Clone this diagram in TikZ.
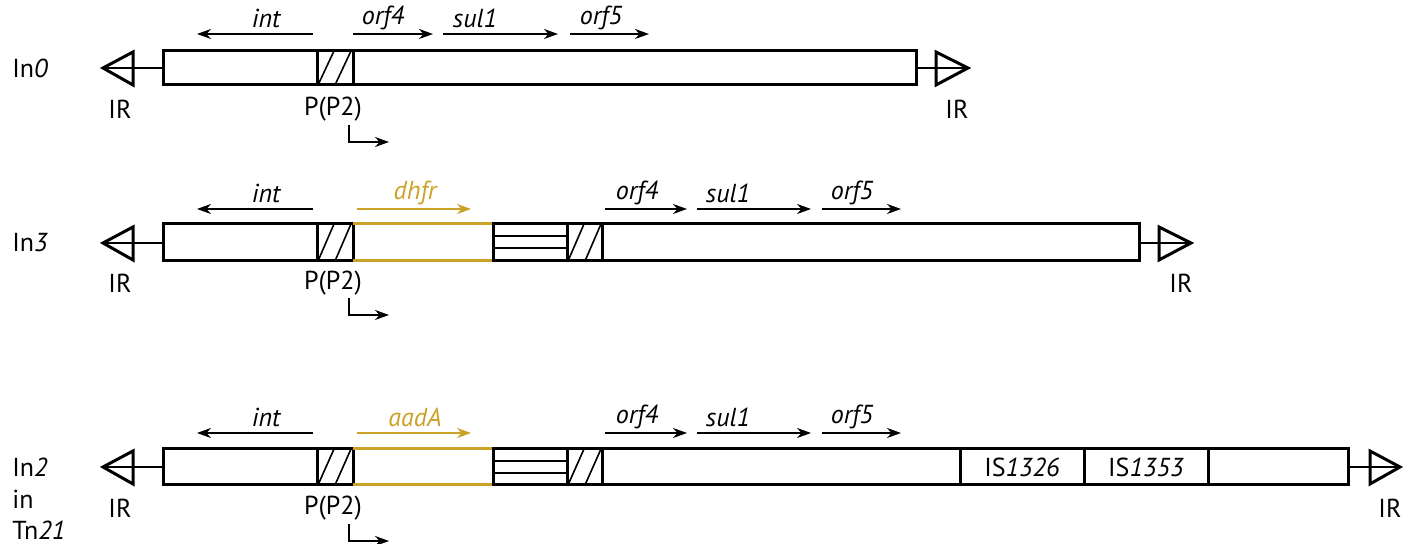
\documentclass[tikz,border=0pt]{standalone}
\usepackage{fontspec}
\setmainfont{PT Sans}
\usetikzlibrary{arrows.meta}
\definecolor{cassette}{RGB}{201,162,39}
\newcommand{\lblfont}{\fontsize{13}{15}\selectfont}
\tikzset{
  segbox/.style={line width=1.5pt},
  hatch/.style={line width=0.8pt},
  irline/.style={line width=0.8pt},
  irtri/.style={line width=1.5pt, line join=miter},
  genearrow/.style={line width=0.9pt, -{Stealth[length=7pt,width=5pt]}},
  genename/.style={font=\lblfont\itshape, inner sep=0pt},
  lbl/.style={inner sep=0pt}
}
\begin{document}
\begin{tikzpicture}[x=0.5pt, y=-0.5pt, font=\lblfont]
\useasboundingbox (0,0) rectangle (1410,544);

% In0
\node[lbl, anchor=west] (in0) at (12,68) {In\textit{0}};
\draw[irline] (103,68) -- (163,68);
\draw[irtri] (133,52) -- (103,68) -- (133,85) -- cycle;
\draw[segbox] (163,51) rectangle (317,85);
\draw[segbox] (317,51) rectangle (353,85);
\draw[hatch] (318,85) -- (334,51) (335,85) -- (351,51);
\draw[segbox] (353,51) rectangle (916,85);
\draw[irline] (916,68) -- (968,68);
\draw[irtri] (936,52) -- (968,68) -- (936,85) -- cycle;
\node[lbl] (irl0) at (120,109) {IR};
\node[lbl] (irr0) at (957,109) {IR};
\node[lbl] (p0) at (333,109) {P(P2)};
\draw[genearrow] (349,125) |- (389,142);
\draw[genearrow] (313,34) -- (197,34);
\draw[genearrow] (353,34) -- (433,34);
\draw[genearrow] (443,34) -- (558,34);
\draw[genearrow] (570,34) -- (649,34);
\node[genename] (int0) at (266,18) {int};
\node[genename] (orfa0) at (383,18) {orf4};
\node[genename] (sul0) at (475,18) {sul1};
\node[genename] (orfb0) at (601,18) {orf5};

% In3
\node[lbl, anchor=west] (in3) at (12,243) {In\textit{3}};
\draw[irline] (103,243) -- (163,243);
\draw[irtri] (133,227) -- (103,243) -- (133,260) -- cycle;
\draw[segbox] (163,224) rectangle (317,261);
\draw[segbox] (317,224) rectangle (353,261);
\draw[hatch] (318,261) -- (334,224) (335,261) -- (351,224);
\draw[segbox, cassette] (353,224) -- (493,224) (353,261) -- (493,261);
\draw[segbox] (493,224) rectangle (567,261);
\draw[hatch, line width=1pt] (493,236.5) -- (567,236.5) (493,248.5) -- (567,248.5);
\draw[segbox] (567,224) rectangle (602,261);
\draw[hatch] (568,261) -- (584,224) (585,261) -- (601,224);
\draw[segbox] (602,224) rectangle (1139,261);
\draw[irline] (1139,243) -- (1191,243);
\draw[irtri] (1159,227) -- (1191,243) -- (1159,260) -- cycle;
\node[lbl] (irl3) at (120,283) {IR};
\node[lbl] (irr3) at (1181,283) {IR};
\node[lbl] (p3) at (333,283) {P(P2)};
\draw[genearrow] (349,298) |- (389,315);
\draw[genearrow] (313,209) -- (197,209);
\draw[genearrow, cassette] (357,209) -- (471,209);
\draw[genearrow] (605,209) -- (687,209);
\draw[genearrow] (697,209) -- (811,209);
\draw[genearrow] (822,209) -- (901,209);
\node[genename] (int3) at (266,193) {int};
\node[genename, text=cassette] (dhfr3) at (415,193) {dhfr};
\node[genename] (orfa3) at (637,193) {orf4};
\node[genename] (sul3) at (728,193) {sul1};
\node[genename] (orfb3) at (852,193) {orf5};

% In2 in Tn21
\node[lbl, anchor=west] (in2) at (12,467) {In\textit{2}};
\node[lbl, anchor=west] (in2b) at (12,499) {in};
\node[lbl, anchor=west] (in2c) at (12,530) {Tn\textit{21}};
\draw[irline] (103,467) -- (163,467);
\draw[irtri] (133,451) -- (103,467) -- (133,484) -- cycle;
\draw[segbox] (163,449) rectangle (317,485);
\draw[segbox] (317,449) rectangle (353,485);
\draw[hatch] (318,485) -- (334,449) (335,485) -- (351,449);
\draw[segbox, cassette] (353,449) -- (493,449) (353,485) -- (493,485);
\draw[segbox] (493,449) rectangle (567,485);
\draw[hatch, line width=1pt] (493,461) -- (567,461) (493,473) -- (567,473);
\draw[segbox] (567,449) rectangle (602,485);
\draw[hatch] (568,485) -- (584,449) (585,485) -- (601,449);
\draw[segbox] (602,449) rectangle (1348,485);
\draw[segbox] (960,449) -- (960,485) (1084,449) -- (1084,485) (1208,449) -- (1208,485);
\node[lbl] (is26) at (1022,467) {IS\textit{1326}};
\node[lbl] (is53) at (1146,467) {IS\textit{1353}};
\draw[irline] (1348,467) -- (1400,467);
\draw[irtri] (1370,451) -- (1400,467) -- (1370,484) -- cycle;
\node[lbl] (irl2) at (120,508) {IR};
\node[lbl] (irr2) at (1390,508) {IR};
\node[lbl] (p2) at (333,508) {P(P2)};
\draw[genearrow] (349,524) |- (389,541);
\draw[genearrow] (313,433) -- (197,433);
\draw[genearrow, cassette] (357,433) -- (471,433);
\draw[genearrow] (605,433) -- (687,433);
\draw[genearrow] (697,433) -- (811,433);
\draw[genearrow] (822,433) -- (901,433);
\node[genename] (int2) at (266,417) {int};
\node[genename, text=cassette] (aada2) at (415,417) {aadA};
\node[genename] (orfa2) at (637,417) {orf4};
\node[genename] (sul2) at (728,417) {sul1};
\node[genename] (orfb2) at (852,417) {orf5};
\end{tikzpicture}
\end{document}
